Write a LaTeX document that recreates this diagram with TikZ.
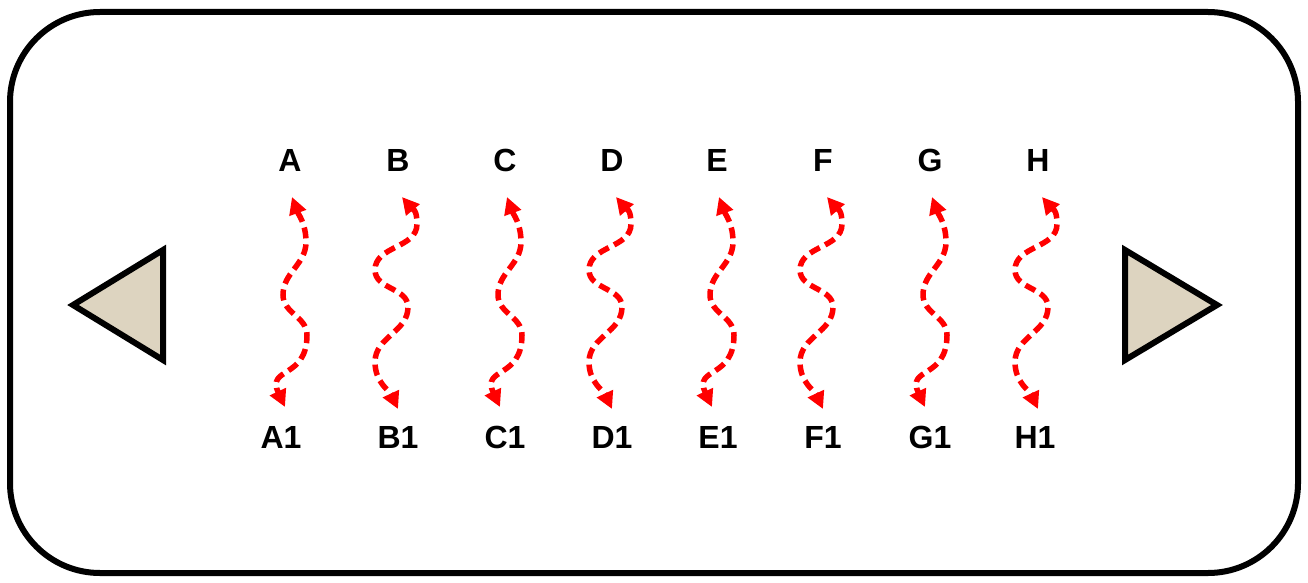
\documentclass[tikz,border=0pt]{standalone}
\usepackage{fontspec}
\setmainfont{Liberation Sans}
\usetikzlibrary{arrows.meta}
\definecolor{clothbeige}{RGB}{221,212,192}
\begin{document}
\begin{tikzpicture}[x=1pt,y=1pt,
  lbl/.style={font=\fontsize{32}{35}\selectfont\bfseries, inner sep=0pt},
  wave/.style={draw=red, line width=5.5pt, dash pattern=on 11pt off 6pt,
    {Triangle[length=17pt,width=17pt]}-{Triangle[length=17pt,width=17pt]}},
  frame/.style={draw=black, line width=6pt, rounded corners=90pt},
  tri/.style={draw=black, line width=6pt, fill=clothbeige, line join=miter}]
\useasboundingbox (0,0) rectangle (1308,-583);
\draw[frame] (10,-12) rectangle (1298,-573);
% side triangles
\draw[tri] (73,-305) -- (163,-250) -- (163,-360) -- cycle;
\draw[tri] (1217,-305) -- (1125,-250) -- (1125,-360) -- cycle;
% labels
\foreach \n/\x/\xb in {A/290/281, B/398/398, C/505/505, D/612/612, E/717/718, F/823/823, G/930/930, H/1038/1035} {
  \node[lbl] (\n) at (\x,-160) {\n};
  \node[lbl] (\n1) at (\xb,-437) {\n1};
}
% wave type a (A, C, E, G)
\foreach \n/\x in {A/290, C/505, E/717, G/930} {
  \begin{scope}[shift={(\x,0)}]
    \coordinate (\n-top) at (2,-197);
    \coordinate (\n-bot) at (-5,-407);
    \draw[wave] (\n-top) to[out=-70,in=90] (16,-242)
      to[out=-90,in=90] (-7,-295)
      to[out=-90,in=90] (17,-335)
      to[out=-90,in=115,looseness=1.5] (\n-bot);
  \end{scope}
}
% wave type b (B, D, F, H)
\foreach \n/\x in {B/398, D/612, F/823, H/1038} {
  \begin{scope}[shift={(\x,0)}]
    \coordinate (\n-top) at (4,-197);
    \coordinate (\n-bot) at (0,-409);
    \draw[wave] (\n-top) to[out=-50,in=90,looseness=1.3] (19,-224)
      to[out=-90,in=90] (-23,-270)
      to[out=-90,in=90] (10,-307)
      to[out=-90,in=90] (-23,-362)
      to[out=-90,in=115] (\n-bot);
  \end{scope}
}
\end{tikzpicture}
\end{document}
